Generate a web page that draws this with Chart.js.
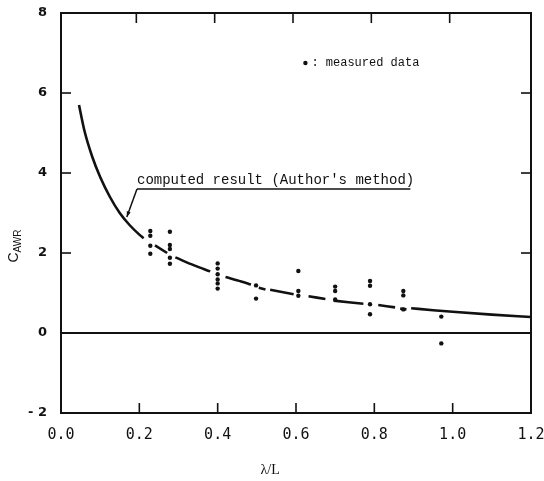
<!DOCTYPE html>
<html>
<head>
<meta charset="utf-8">
<script src="https://cdn.jsdelivr.net/npm/chart.js@4/dist/chart.umd.min.js"></script>
<style>
  html, body { margin: 0; padding: 0; background: #fff; }
  #wrap { width: 544px; height: 481px; position: relative; }
</style>
</head>
<body>
<div id="wrap"><canvas id="c" width="544" height="481"></canvas></div>
<script>
// ---- data ----
const measuredX = [0.228,0.228,0.228,0.228,
                   0.278,0.278,0.278,0.278,0.278,
                   0.40,0.40,0.40,0.40,0.40,0.40,
                   0.498,0.498,
                   0.606,0.606,0.606,
                   0.70,0.70,0.70,
                   0.789,0.789,0.789,0.789,
                   0.874,0.874,0.874,
                   0.971,0.971];
const measuredY = [2.55,2.43,2.18,1.98,
                   2.53,2.20,2.10,1.88,1.73,
                   1.74,1.61,1.47,1.34,1.24,1.11,
                   1.19,0.86,
                   1.55,1.05,0.93,
                   1.16,1.05,0.84,
                   1.30,1.18,0.72,0.47,
                   1.05,0.94,0.59,
                   0.41,-0.26];
// computed curve (null entries = breaks in the printed line)
const curveX = [0.046,0.06,0.08,0.10,0.125,0.15,0.175,0.20,0.211,0.225,
                0.24,0.271,0.28,
                0.292,0.34,0.381,0.40,
                0.42,0.46,0.485,0.494,
                0.505,0.522,0.528,
                0.534,0.594,0.61,
                0.632,0.675,0.685,
                0.696,0.734,0.772,0.79,
                0.81,0.853,0.86,
                0.866,0.882,0.888,
                0.894,0.95,1.0,1.1,1.2];
const curveY = [5.70,5.05,4.40,3.90,3.40,3.00,2.70,2.46,2.37,null,
                2.19,2.00,null,
                1.89,1.69,1.54,null,
                1.40,1.29,1.21,null,
                1.13,1.09,null,
                1.08,0.97,null,
                0.92,0.85,null,
                0.81,0.77,0.73,null,
                0.70,0.64,null,
                0.61,0.59,null,
                0.62,0.57,0.53,0.46,0.40];
const xTicks = [0.0,0.2,0.4,0.6,0.8,1.0,1.2];
const xTickLabels = ['0.0','0.2','0.4','0.6','0.8','1.0','1.2'];
const yTicks = [-2,0,2,4,6,8];
const yTickLabels = ['- 2','0','2','4','6','8'];
const xTitle = 'λ/L';
const yTitleMain = 'C';
const yTitleSub = 'AWR';
const curveLabel = "computed result (Author's method)";
const measuredLabel = ': measured data';

const ink = '#111';

const frame = {
  id: 'frame',
  beforeDraw(chart) {
    const c = chart.ctx;
    c.save(); c.fillStyle = '#fff'; c.fillRect(0,0,chart.width,chart.height); c.restore();
  },
  afterDatasetsDraw(chart) {
    const c = chart.ctx, a = chart.chartArea, xs = chart.scales.x, ys = chart.scales.y;
    c.save();
    c.strokeStyle = ink; c.lineWidth = 2;
    c.strokeRect(a.left, a.top, a.right - a.left, a.bottom - a.top);
    // zero line
    const y0 = ys.getPixelForValue(0);
    c.lineWidth = 2;
    c.beginPath(); c.moveTo(a.left, y0); c.lineTo(a.right, y0); c.stroke();
    // inward ticks
    const L = 10;
    c.lineWidth = 1.6;
    xTicks.slice(1, -1).forEach(v => {
      const px = xs.getPixelForValue(v);
      c.beginPath(); c.moveTo(px, a.bottom); c.lineTo(px, a.bottom - L); c.stroke();
      c.beginPath(); c.moveTo(px - 3, a.top); c.lineTo(px - 3, a.top + L); c.stroke();
    });
    [2,4,6].forEach(v => {
      const py = ys.getPixelForValue(v);
      c.beginPath(); c.moveTo(a.left, py); c.lineTo(a.left + L, py); c.stroke();
      c.beginPath(); c.moveTo(a.right, py); c.lineTo(a.right - L, py); c.stroke();
    });
    // annotation: computed result
    c.fillStyle = ink;
    c.font = '14px "Liberation Mono", "DejaVu Sans Mono", monospace';
    c.textBaseline = 'alphabetic'; c.textAlign = 'left';
    const tx = xs.getPixelForValue(0.194), ty = ys.getPixelForValue(3.72);
    c.fillText(curveLabel, tx, ty);
    const uy = ys.getPixelForValue(3.6);
    c.lineWidth = 1.5;
    c.beginPath(); c.moveTo(tx, uy); c.lineTo(xs.getPixelForValue(0.892), uy); c.stroke();
    const ex = xs.getPixelForValue(0.168), ey = ys.getPixelForValue(2.9);
    c.beginPath(); c.moveTo(tx, uy); c.lineTo(ex, ey); c.stroke();
    // arrow head
    const ang = Math.atan2(ey - uy, ex - tx);
    c.beginPath();
    c.moveTo(ex, ey);
    c.lineTo(ex - 6*Math.cos(ang - 0.35), ey - 6*Math.sin(ang - 0.35));
    c.lineTo(ex - 6*Math.cos(ang + 0.35), ey - 6*Math.sin(ang + 0.35));
    c.closePath(); c.fill();
    // legend: measured data
    const mx = xs.getPixelForValue(0.624), my = ys.getPixelForValue(6.75);
    c.beginPath(); c.arc(mx, my, 2.2, 0, Math.PI*2); c.fill();
    c.font = '12px "Liberation Mono", "DejaVu Sans Mono", monospace';
    c.textBaseline = 'middle';
    c.fillText(measuredLabel, mx + 6, my);
    // axis titles
    c.font = '14px "Liberation Serif", "DejaVu Serif", serif';
    c.textAlign = 'center'; c.textBaseline = 'middle';
    c.fillText(xTitle, a.left + (a.right - a.left) * 0.445, 470);
    c.save();
    c.translate(14, 246);
    c.rotate(-Math.PI/2);
    c.textAlign = 'left'; c.textBaseline = 'middle';
    c.font = '14px "Liberation Sans", "DejaVu Sans", sans-serif';
    const wC = c.measureText(yTitleMain).width;
    c.font = '10px "Liberation Sans", "DejaVu Sans", sans-serif';
    const wS = c.measureText(yTitleSub).width;
    const total = wC + wS;
    c.font = '14px "Liberation Sans", "DejaVu Sans", sans-serif';
    c.fillText(yTitleMain, -total/2, 0);
    c.font = '10px "Liberation Sans", "DejaVu Sans", sans-serif';
    c.fillText(yTitleSub, -total/2 + wC, 4);
    c.restore();
    c.restore();
  }
};

new Chart(document.getElementById('c'), {
  type: 'scatter',
  data: {
    datasets: [
      {
        label: 'measured data',
        data: measuredX.map((x, i) => ({x, y: measuredY[i]})),
        pointRadius: 2.2,
        pointBackgroundColor: ink,
        pointBorderWidth: 0,
        showLine: false
      },
      {
        label: 'computed result',
        data: curveX.map((x, i) => ({x, y: curveY[i]})),
        showLine: true,
        spanGaps: false,
        pointRadius: 0,
        borderColor: ink,
        borderWidth: 2.6,
        tension: 0.4,
        cubicInterpolationMode: 'monotone'
      }
    ]
  },
  options: {
    responsive: false,
    animation: false,
    events: [],
    layout: { padding: { left: 0, right: 13, top: 13, bottom: 0 } },
    plugins: { legend: { display: false }, tooltip: { enabled: false } },
    scales: {
      x: {
        type: 'linear', min: 0, max: 1.2,
        afterFit(s) { s.height = 68; s.paddingLeft = 0; s.paddingRight = 0; },
        afterBuildTicks(s) { s.ticks = xTicks.map(v => ({value: v})); },
        grid: { display: false, drawTicks: false },
        border: { display: false },
        ticks: {
          padding: 13, color: ink,
          font: { family: '"DejaVu Sans Mono", monospace', size: 15 },
          maxRotation: 0,
          callback: (v) => { const i = xTicks.findIndex(t => Math.abs(t - v) < 1e-6); return i >= 0 ? xTickLabels[i] : ''; }
        }
      },
      y: {
        type: 'linear', min: -2, max: 8,
        afterFit(s) { s.width = 61; s.paddingTop = 0; s.paddingBottom = 0; },
        afterBuildTicks(s) { s.ticks = yTicks.map(v => ({value: v})); },
        grid: { display: false, drawTicks: false },
        border: { display: false },
        ticks: {
          padding: 14, color: ink,
          font: { family: '"DejaVu Sans", sans-serif', size: 13, weight: 'bold' },
          callback: (v) => { const i = yTicks.indexOf(v); return i >= 0 ? yTickLabels[i] : ''; }
        }
      }
    }
  },
  plugins: [frame]
});
</script>
</body>
</html>
